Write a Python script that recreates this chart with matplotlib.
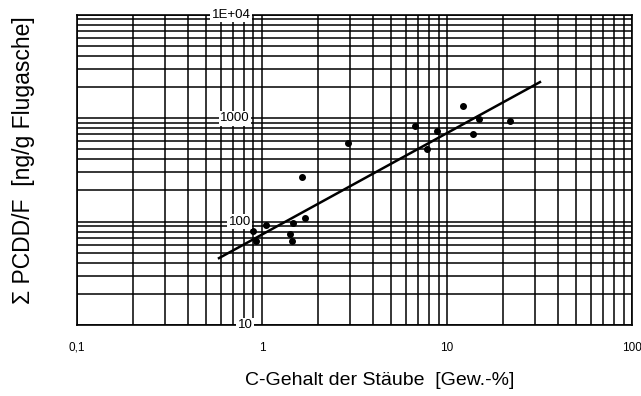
import matplotlib
matplotlib.use("Agg")
import numpy as np
import matplotlib.pyplot as plt
from matplotlib import ticker

# data
c_gehalt = [0.89, 0.93, 1.05, 1.42, 1.45, 1.47, 1.71, 1.65, 2.92,
            6.7, 7.8, 8.8, 12.2, 13.8, 14.9, 21.9]
pcdd = [81, 65, 92, 76, 65, 97, 108, 270, 570,
        840, 500, 750, 1300, 700, 980, 935]
fit_x = [0.586, 31.8]
fit_y = [44.4, 2230]

xtick_vals = [0.1, 1, 10, 100]
xtick_labels = ["0,1", "1", "10", "100"]
ytick_vals = [10, 100, 1000, 10000]
ytick_labels = ["10", "100", "1000", "1E+04"]
ytick_xpos = [0.81, 0.76, 0.714, 0.68]

plt.rcParams['font.family'] = ['Liberation Sans', 'DejaVu Sans']

fig = plt.figure(figsize=(6.41, 3.96), dpi=100)
ax = fig.add_axes([0.120, 0.179, 0.866, 0.784])
ax.set_xscale('log')
ax.set_yscale('log')
ax.set_xlim(0.1, 100)
ax.set_ylim(10, 10000)

ax.yaxis.set_major_locator(ticker.LogLocator(base=10))
ax.yaxis.set_minor_locator(ticker.LogLocator(base=10, subs=np.arange(2, 10)))
ax.yaxis.set_major_formatter(ticker.NullFormatter())
ax.yaxis.set_minor_formatter(ticker.NullFormatter())
ax.xaxis.set_minor_locator(ticker.LogLocator(base=10, subs=np.arange(2, 10)))
ax.xaxis.set_minor_formatter(ticker.NullFormatter())

ax.grid(True, which='both', color='black', linewidth=1.1)
ax.set_axisbelow(True)
for s in ax.spines.values():
    s.set_linewidth(1.2)

ax.plot(fit_x, fit_y, color='black', linewidth=1.8, zorder=3)
ax.scatter(c_gehalt, pcdd, s=16, color='black', zorder=4)

ax.set_xticks(xtick_vals)
ax.set_xticklabels(xtick_labels, fontsize=8.5)
ax.tick_params(axis='x', which='both', length=0, pad=12)
ax.tick_params(axis='y', which='both', length=0)

for xv, yv, lab in zip(ytick_xpos, ytick_vals, ytick_labels):
    ax.text(xv, yv, lab, fontsize=9.5, ha='center', va='center', zorder=5,
            bbox=dict(facecolor='white', edgecolor='none', pad=1.0))

ax.set_xlabel('C-Gehalt der Stäube  [Gew.-%]', fontsize=14, va='center')
ax.xaxis.set_label_coords(0.546, -0.177)
ax.set_ylabel('Σ PCDD/F  [ng/g Flugasche]', fontsize=16.5, va='center')
ax.yaxis.set_label_coords(-0.097, 0.531)

fig.savefig('out.png', dpi=100)
